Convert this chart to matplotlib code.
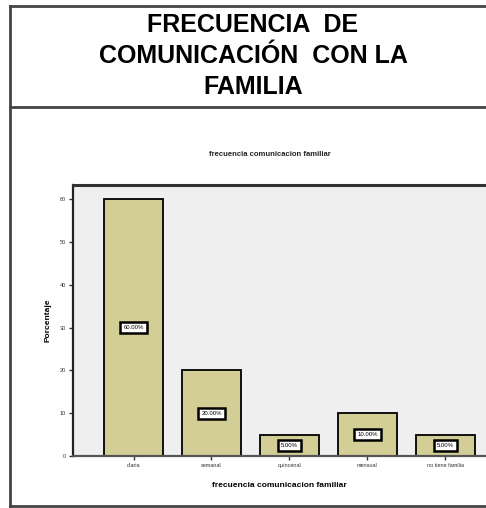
import matplotlib
matplotlib.use("Agg")
import matplotlib.pyplot as plt
from matplotlib.lines import Line2D

# data
categories = ["diaria", "semanal", "quincenal", "mensual", "no tiene familia"]
percentages = [60, 20, 5, 10, 5]
bar_labels = ["60.00%", "20.00%", "5.00%", "10.00%", "5.00%"]
y_ticks = [0, 10, 20, 30, 40, 50, 60]

plt.rcParams['font.family'] = ['Liberation Sans', 'DejaVu Sans']

fig = plt.figure(figsize=(4.86, 5.08), dpi=100)
fig.patch.set_facecolor("white")

# outer frame (title box + chart box)
frame_kw = dict(color="#444444", lw=2, transform=fig.transFigure)
fig.add_artist(Line2D([10/486, 10/486], [1-6/508, 1-506/508], **frame_kw))
fig.add_artist(Line2D([10/486, 1.0], [1-6/508, 1-6/508], **frame_kw))
fig.add_artist(Line2D([10/486, 1.0], [1-107/508, 1-107/508], **frame_kw))
fig.add_artist(Line2D([10/486, 1.0], [1-506/508, 1-506/508], **frame_kw))

fig.text(253/486, 1-56/508, "FRECUENCIA  DE\nCOMUNICACIÓN  CON LA\nFAMILIA",
         ha="center", va="center", fontsize=18, fontweight="bold",
         linespacing=1.37)

ax = fig.add_axes([73/486, 52/508, 1 - 73/486, 271/508])
ax.set_facecolor("#EFEFEF")

x = list(range(len(categories)))
ax.bar(x, percentages, width=0.755, color="#D3CE96", edgecolor="black",
       linewidth=1.3, zorder=2)

for xi, v, lab in zip(x, percentages, bar_labels):
    ax.text(xi, v / 2, lab, ha="center", va="center", fontsize=4.3, zorder=3,
            bbox=dict(boxstyle="square,pad=0.5", fc="white", ec="black", lw=1.8))

ax.set_xlim(-0.776, 4.52)
ax.set_ylim(0, 63.3)
ax.set_xticks(x)
ax.set_xticklabels(categories, fontsize=4)
ax.set_yticks(y_ticks)
ax.set_yticklabels([str(t) for t in y_ticks], fontsize=4)
ax.tick_params(axis="both", length=3, width=1, pad=2, color="#333333",
               labelcolor="#333333")

ax.spines["right"].set_visible(False)
ax.spines["top"].set_linewidth(2.2)
ax.spines["top"].set_color("#333333")
ax.spines["left"].set_linewidth(1.6)
ax.spines["left"].set_color("#222222")
ax.spines["bottom"].set_linewidth(1.6)
ax.spines["bottom"].set_color("#555555")

ax.set_xlabel("frecuencia comunicacion familiar", fontsize=6, fontweight="bold",
              labelpad=10)
ax.set_ylabel("Porcentaje", fontsize=6, fontweight="bold", labelpad=6)

fig.text(270/486, 1-154/508, "frecuencia comunicacion familiar", ha="center",
         va="center", fontsize=5.5, fontweight="bold", color="#222222")

fig.savefig("out.png", dpi=100)
